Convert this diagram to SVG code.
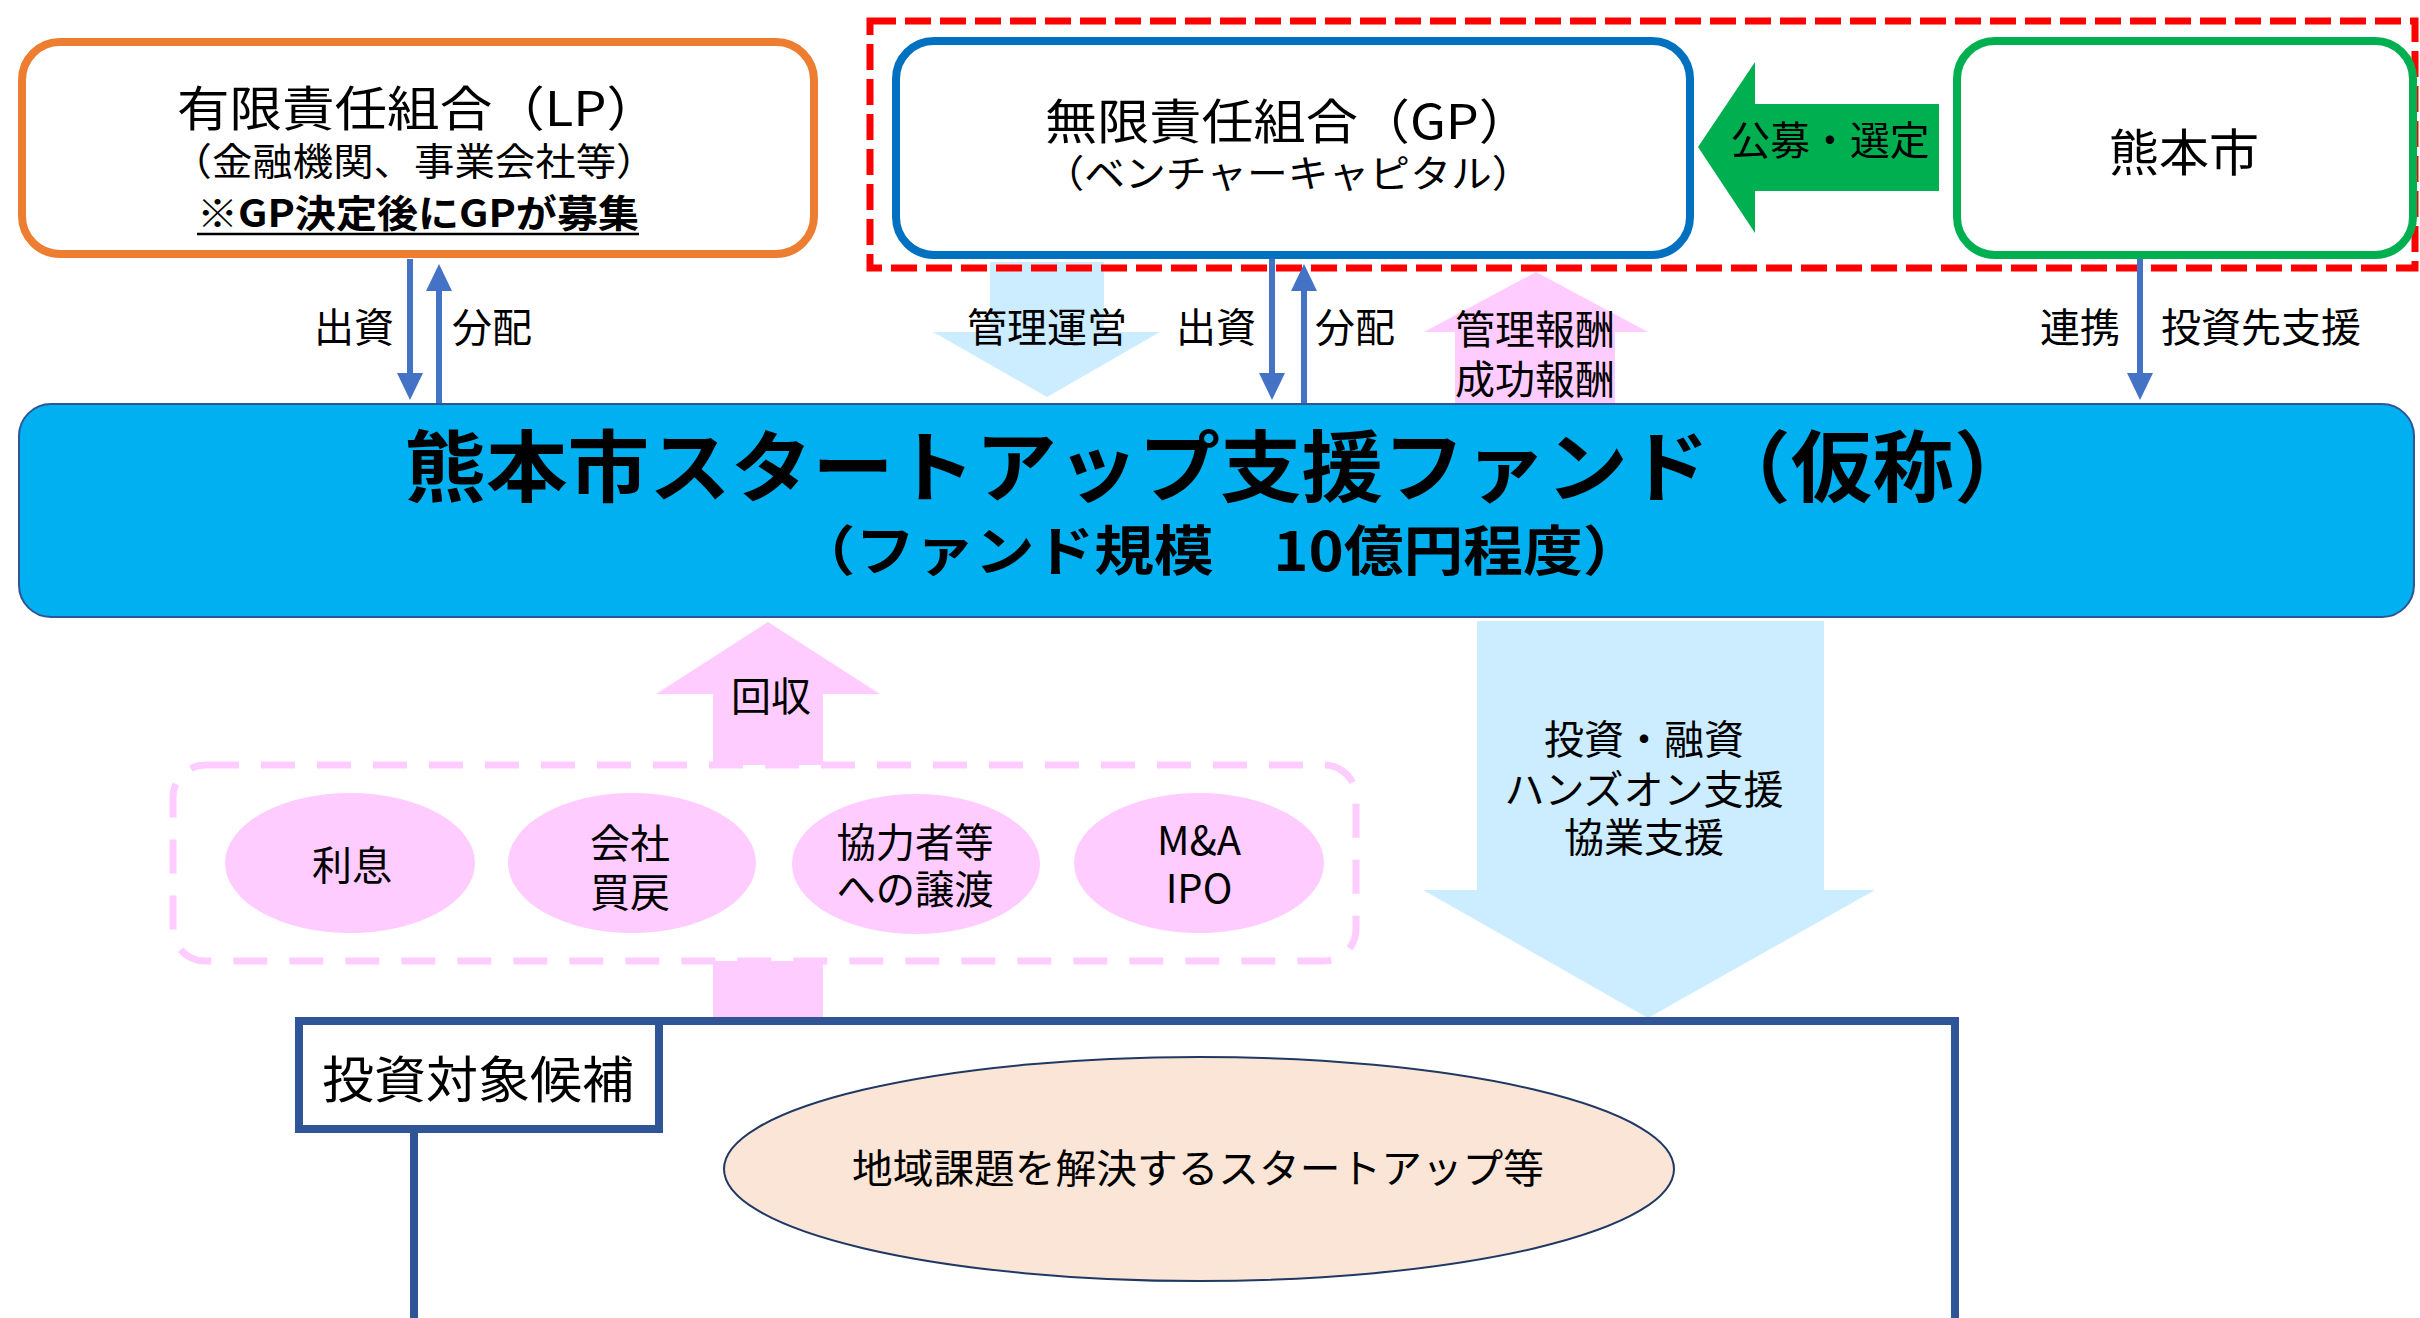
<svg xmlns="http://www.w3.org/2000/svg" width="2420" height="1318" viewBox="0 0 2420 1318">
  <defs>
    <style>
      .t { font-family: "Noto Sans CJK JP", "Noto Sans", sans-serif; fill: #000000; }
      .m { text-anchor: middle; }
      .e { text-anchor: end; }
      .b { font-weight: 700; }
      .f38 { font-size: 38px; }
      .f40 { font-size: 40px; }
      .f48 { font-size: 48px; }
      .f50 { font-size: 50px; }
      .conn { stroke: #4472C4; stroke-width: 6; fill: none; marker-end: url(#ah); }
      .lblue { fill: #CCECFF; }
      .pink { fill: #FFCCFF; }
      .navy { fill: #FFFFFF; stroke: #2F5597; stroke-width: 8; }
    </style>
    <marker id="ah" viewBox="0 0 27 26" refX="1" refY="13" markerWidth="27" markerHeight="26" markerUnits="userSpaceOnUse" orient="auto">
      <path d="M0,0 L27,13 L0,26 z" fill="#4472C4"/>
    </marker>
  </defs>

  <rect x="0" y="0" width="2420" height="1318" fill="#FFFFFF"/>

  <!-- block arrows (background) -->
  <g id="arrow-kanri-unei">
    <polygon class="lblue" points="990,262 1104,262 1104,332 1160,332 1047,397 933,332 990,332"/>
  </g>
  <g id="arrow-houshu">
    <polygon class="pink" points="1536,272 1648,332 1615,332 1615,404 1455,404 1455,332 1424,332"/>
  </g>
  <g id="arrow-toushi">
    <polygon class="lblue" points="1477,621 1824,621 1824,890 1875,890 1648,1018 1423,890 1477,890"/>
  </g>
  <g id="arrow-kaishu">
    <polygon class="pink" points="768,622 880,694 823,694 823,1018 713,1018 713,694 656,694"/>
  </g>

  <!-- red dashed selection frame -->
  <g id="selection-frame">
    <rect x="870" y="21" width="1545" height="247" fill="none" stroke="#FF0000" stroke-width="7" stroke-dasharray="26 9"/>
  </g>

  <!-- LP -->
  <g id="node-lp">
    <rect x="22" y="42" width="792" height="212" rx="38" ry="38" fill="#FFFFFF" stroke="#ED7D31" stroke-width="8"/>
    <text class="t m f48" x="418" y="126" textLength="482" lengthAdjust="spacingAndGlyphs">有限責任組合（LP）</text>
    <text class="t m f38" x="414" y="175" textLength="485" lengthAdjust="spacingAndGlyphs">（金融機関、事業会社等）</text>
    <text class="t m f38 b" x="418" y="227" textLength="442" lengthAdjust="spacingAndGlyphs">※GP決定後にGPが募集</text>
    <line x1="197" y1="234" x2="639" y2="234" stroke="#000000" stroke-width="2.5"/>
  </g>

  <!-- GP -->
  <g id="node-gp">
    <rect x="896" y="41" width="794" height="214" rx="38" ry="38" fill="#FFFFFF" stroke="#0070C0" stroke-width="8"/>
    <text class="t m f48" x="1288" y="139" textLength="486" lengthAdjust="spacingAndGlyphs">無限責任組合（GP）</text>
    <text class="t m f38" x="1288" y="187" textLength="489" lengthAdjust="spacingAndGlyphs">（ベンチャーキャピタル）</text>
  </g>

  <!-- green arrow 公募・選定 -->
  <g id="arrow-koubo">
    <polygon points="1698,147 1755,62 1755,104 1939,104 1939,191 1755,191 1755,233" fill="#00B050"/>
    <text class="t m f40" x="1830" y="155" textLength="199" lengthAdjust="spacingAndGlyphs">公募・選定</text>
  </g>

  <!-- Kumamoto city -->
  <g id="node-city">
    <rect x="1957" y="41" width="456" height="214" rx="38" ry="38" fill="#FFFFFF" stroke="#00B050" stroke-width="8"/>
    <text class="t m f50" x="2184" y="171">熊本市</text>
  </g>

  <!-- Fund -->
  <g id="node-fund">
    <rect x="19" y="404" width="2395" height="213" rx="32" ry="32" fill="#00B0F0" stroke="#2F5597" stroke-width="2"/>
    <text class="t m b" x="1220" y="496" font-size="78" textLength="1631" lengthAdjust="spacingAndGlyphs">熊本市スタートアップ支援ファンド（仮称）</text>
    <text class="t m b" x="1219" y="571" font-size="54" textLength="847" lengthAdjust="spacingAndGlyphs">（ファンド規模　10億円程度）</text>
  </g>

  <!-- exit methods -->
  <g id="group-exit">
    <rect x="173" y="765" width="1183" height="196" rx="32" ry="32" fill="#FFFFFF" stroke="#FFCCFF" stroke-width="7" stroke-dasharray="34 22"/>
  </g>
  <g id="node-interest">
    <ellipse class="pink" cx="350" cy="863" rx="125" ry="70"/>
    <text class="t m f40" x="352" y="880">利息</text>
  </g>
  <g id="node-buyback">
    <ellipse class="pink" cx="632" cy="863" rx="124" ry="70"/>
    <text class="t m f40" x="630" y="858">会社</text>
    <text class="t m f40" x="630" y="907">買戻</text>
  </g>
  <g id="node-transfer">
    <ellipse class="pink" cx="916" cy="864" rx="124" ry="70"/>
    <text class="t m f40" x="915" y="857" textLength="157" lengthAdjust="spacingAndGlyphs">協力者等</text>
    <text class="t m f40" x="915" y="904" textLength="157" lengthAdjust="spacingAndGlyphs">への譲渡</text>
  </g>
  <g id="node-ma-ipo">
    <ellipse class="pink" cx="1199" cy="863" rx="125" ry="70"/>
    <text class="t m f40" x="1199" y="855">M&amp;A</text>
    <text class="t m f40" x="1199" y="903">IPO</text>
  </g>

  <!-- investment candidates -->
  <g id="node-candidates">
    <rect class="navy" x="414" y="1021" width="1541" height="330"/>
    <ellipse cx="1199" cy="1169" rx="475" ry="112" fill="#FBE5D6" stroke="#1F3864" stroke-width="2"/>
    <text class="t m f40" x="1198" y="1183" textLength="692" lengthAdjust="spacingAndGlyphs">地域課題を解決するスタートアップ等</text>
  </g>
  <g id="node-candidates-label">
    <rect class="navy" x="299" y="1021" width="360" height="108"/>
    <text class="t m f50" x="478" y="1098" textLength="312" lengthAdjust="spacingAndGlyphs">投資対象候補</text>
  </g>

  <!-- connectors -->
  <g id="connectors">
    <line class="conn" x1="410" y1="259" x2="410" y2="374"/>
    <line class="conn" x1="439" y1="403" x2="439" y2="290"/>
    <line class="conn" x1="1272" y1="259" x2="1272" y2="374"/>
    <line class="conn" x1="1304" y1="403" x2="1304" y2="290"/>
    <line class="conn" x1="2140" y1="259" x2="2140" y2="374"/>
  </g>

  <!-- labels -->
  <g id="labels">
    <text class="t e f40" x="394" y="342">出資</text>
    <text class="t f40" x="452" y="342">分配</text>
    <text class="t m f40" x="1047" y="342">管理運営</text>
    <text class="t e f40" x="1256" y="342">出資</text>
    <text class="t f40" x="1315" y="342">分配</text>
    <text class="t m f40" x="1535" y="344">管理報酬</text>
    <text class="t m f40" x="1535" y="394">成功報酬</text>
    <text class="t e f40" x="2120" y="342">連携</text>
    <text class="t f40" x="2161" y="342">投資先支援</text>
    <text class="t m f40" x="771" y="711">回収</text>
    <text class="t m f40" x="1644" y="754">投資・融資</text>
    <text class="t m f40" x="1644" y="804">ハンズオン支援</text>
    <text class="t m f40" x="1644" y="852">協業支援</text>
  </g>
</svg>
